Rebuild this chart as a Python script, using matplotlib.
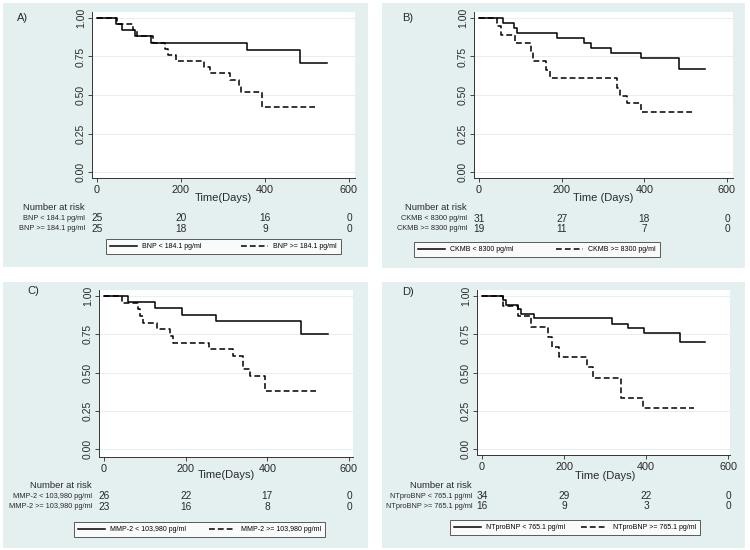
import matplotlib
matplotlib.use("Agg")
import matplotlib.pyplot as plt
from matplotlib.patches import Rectangle
from matplotlib.transforms import blended_transform_factory

plt.rcParams['font.family'] = ['Liberation Sans', 'DejaVu Sans']

W, H = 750, 550

# ---- data ----
a_lo_t = [0, 46, 60, 90, 129, 357, 484, 548]
a_lo_s = [1.0, 0.96, 0.92, 0.88, 0.84, 0.79, 0.71, 0.71]
a_hi_t = [0, 48, 86, 95, 133, 161, 169, 187, 254, 270, 316, 338, 343, 392, 518]
a_hi_s = [1.0, 0.96, 0.92, 0.88, 0.84, 0.80, 0.76, 0.72, 0.68, 0.64, 0.60, 0.56, 0.52, 0.42, 0.42]

b_lo_t = [0, 59, 85, 93, 188, 254, 270, 319, 393, 483, 546]
b_lo_s = [1.0, 0.968, 0.935, 0.903, 0.87, 0.838, 0.805, 0.773, 0.74, 0.67, 0.67]
b_hi_t = [0, 43, 53, 87, 125, 130, 161, 171, 335, 341, 358, 393, 518]
b_hi_s = [1.0, 0.947, 0.891, 0.837, 0.78, 0.724, 0.663, 0.609, 0.543, 0.496, 0.446, 0.387, 0.387]

c_lo_t = [0, 59, 125, 190, 274, 483, 548]
c_lo_s = [1.0, 0.962, 0.923, 0.877, 0.837, 0.752, 0.752]
c_hi_t = [0, 43, 84, 88, 95, 129, 161, 170, 258, 316, 341, 357, 394, 518]
c_hi_s = [1.0, 0.957, 0.913, 0.87, 0.826, 0.783, 0.739, 0.696, 0.652, 0.609, 0.522, 0.478, 0.38, 0.38]

d_lo_t = [0, 51, 59, 88, 96, 128, 317, 356, 395, 482, 545]
d_lo_s = [1.0, 0.971, 0.941, 0.912, 0.882, 0.853, 0.82, 0.79, 0.758, 0.70, 0.70]
d_hi_t = [0, 51, 88, 120, 161, 171, 187, 256, 271, 338, 393, 516]
d_hi_s = [1.0, 0.9375, 0.867, 0.80, 0.733, 0.667, 0.60, 0.533, 0.467, 0.333, 0.267, 0.267]

risk_times = [0, 200, 400, 600]
a_risk_lo, a_risk_hi = [25, 20, 16, 0], [25, 18, 9, 0]
b_risk_lo, b_risk_hi = [31, 27, 18, 0], [19, 11, 7, 0]
c_risk_lo, c_risk_hi = [26, 22, 17, 0], [23, 16, 8, 0]
d_risk_lo, d_risk_hi = [34, 29, 22, 0], [16, 9, 3, 0]

a_labels = ["BNP < 184.1 pg/ml", "BNP >= 184.1 pg/ml"]
b_labels = ["CKMB < 8300 pg/ml", "CKMB >= 8300 pg/ml"]
c_labels = ["MMP-2 < 103,980 pg/ml", "MMP-2 >= 103,980 pg/ml"]
d_labels = ["NTproBNP < 765.1 pg/ml", "NTproBNP >= 765.1 pg/ml"]

BG = "#e4eff0"
GRID = "#e6eff1"
TXT = "#2a2a2a"

fig = plt.figure(figsize=(7.5, 5.5), dpi=100)
fig.patch.set_facecolor("white")


def fx(px):
    return px / W


def fy(py):
    return 1 - py / H


def panel(tag, outer, plot, xmap, ymap, risk, xlab, labels, lo, hi, rlo, rhi, leg):
    ox0, oy0, ox1, oy1 = outer
    fig.patches.append(Rectangle((fx(ox0), fy(oy1)), (ox1 - ox0) / W, (oy1 - oy0) / H,
                                 transform=fig.transFigure, facecolor=BG, edgecolor="none", zorder=-5))
    L, R, T, B = plot
    ax = fig.add_axes([fx(L), fy(B), (R - L) / W, (B - T) / H])
    ax.set_zorder(2)
    ax.set_facecolor("white")
    # x mapping: pixel of day 0 and day 600
    p0, p600 = xmap
    k = (p600 - p0) / 600.0
    ax.set_xlim((L - p0) / k, (R - p0) / k)
    q1, q0 = ymap
    ky = (q0 - q1)
    ax.set_ylim((q0 - B) / ky, (q0 - T) / ky)

    l1, = ax.step(lo[0], lo[1], where="post", color="black", lw=1.1)
    l2, = ax.step(hi[0], hi[1], where="post", color="black", lw=1.1, dashes=(3.8, 2.0))

    ax.set_xticks([0, 200, 400, 600])
    ax.set_yticks([0, 0.25, 0.5, 0.75, 1.0])
    ax.set_yticklabels(["0.00", "0.25", "0.50", "0.75", "1.00"], rotation=90, va="center")
    ax.tick_params(axis="both", labelsize=7.8, length=3, width=0.6, pad=2, colors=TXT)
    ax.tick_params(axis="y", labelsize=7.5, pad=1.5)
    ax.grid(axis="y", color=GRID, lw=0.8)
    ax.set_axisbelow(True)
    for s in ["top", "right"]:
        ax.spines[s].set_visible(False)
    for s in ["left", "bottom"]:
        ax.spines[s].set_linewidth(0.7)
        ax.spines[s].set_color("#333333")

    rx, ny, r1y, r2y, xly = risk
    tr = blended_transform_factory(ax.transData, fig.transFigure)
    fig.text(fx(rx), fy(ny), "Number at risk", ha="right", va="center", fontsize=6.8, color=TXT)
    fig.text(fx(rx), fy(r1y), labels[0], ha="right", va="center", fontsize=5.3, color=TXT)
    fig.text(fx(rx), fy(r2y), labels[1], ha="right", va="center", fontsize=5.3, color=TXT)
    for t, n1, n2 in zip(risk_times, rlo, rhi):
        ax.text(t, fy(r1y), str(n1), transform=tr, ha="center", va="center", fontsize=7.3,
                color=TXT, clip_on=False)
        ax.text(t, fy(r2y), str(n2), transform=tr, ha="center", va="center", fontsize=7.3,
                color=TXT, clip_on=False)
    ax.text(300, fy(xly), xlab, transform=tr, ha="center", va="center", fontsize=8,
            color=TXT, clip_on=False)

    tx, ty = tag[1]
    fig.text(fx(tx), fy(ty), tag[0], ha="left", va="center", fontsize=8, color=TXT)

    lx0, ly0, lx1, ly1 = leg
    lg = fig.legend([l1, l2], labels, loc="center", ncol=2, mode="expand",
                    bbox_to_anchor=(fx(lx0), fy(ly1), (lx1 - lx0) / W, (ly1 - ly0) / H),
                    bbox_transform=fig.transFigure, fontsize=5.0, frameon=True, fancybox=False,
                    handlelength=3.8, handletextpad=0.8, borderpad=0.6, borderaxespad=0,
                    columnspacing=0.8)
    lg.get_frame().set_edgecolor("#333333")
    lg.get_frame().set_linewidth(0.7)
    return ax


panel(("A)", (17, 18)), (3, 3, 368, 267), (92, 355, 12, 178), (97, 349), (18, 172),
      (85, 208, 218, 229, 198), "Time(Days)", a_labels,
      (a_lo_t, a_lo_s), (a_hi_t, a_hi_s), a_risk_lo, a_risk_hi, (106, 238, 341, 255))

panel(("B)", (402, 18)), (382, 3, 745, 268), (474, 733, 12, 178), (479, 727), (18, 172),
      (467, 208, 219, 229, 198), "Time (Days)", b_labels,
      (b_lo_t, b_lo_s), (b_hi_t, b_hi_s), b_risk_lo, b_risk_hi, (414, 241, 660, 258))

panel(("C)", (27, 291)), (3, 282, 368, 548), (99, 353, 290, 457), (104, 349), (296, 449),
      (92, 486, 496, 507, 475), "Time(Days)", c_labels,
      (c_lo_t, c_lo_s), (c_hi_t, c_hi_s), c_risk_lo, c_risk_hi, (74, 521, 325, 538))

panel(("D)", (402, 292)), (382, 282, 745, 548), (477, 730, 290, 455), (482, 728), (296, 449),
      (472, 486, 496, 506, 476), "Time (Days)", d_labels,
      (d_lo_t, d_lo_s), (d_hi_t, d_hi_s), d_risk_lo, d_risk_hi, (450, 518, 700, 537))

fig.savefig("out.png", dpi=100, facecolor=fig.get_facecolor())
